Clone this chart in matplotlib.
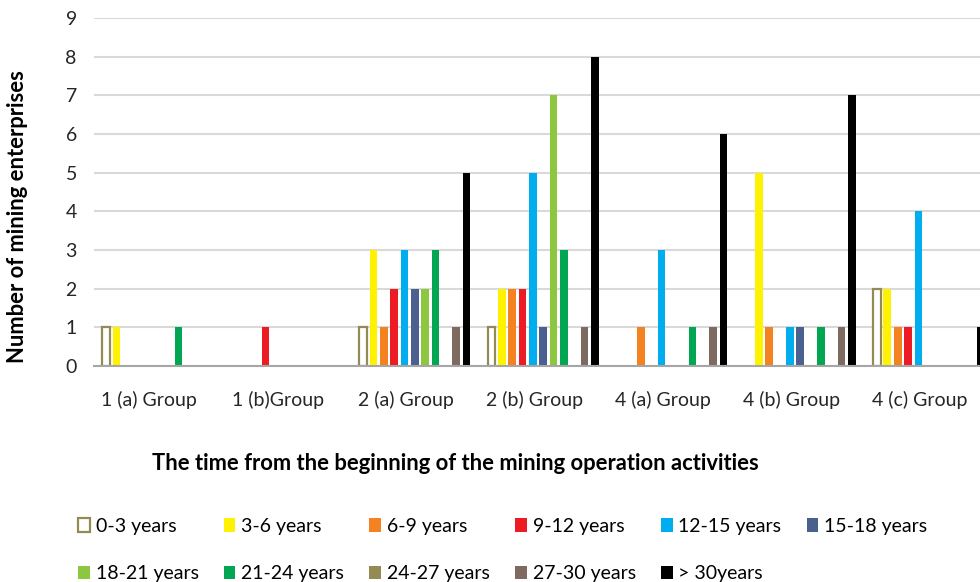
import matplotlib
matplotlib.use("Agg")
import matplotlib.pyplot as plt
import matplotlib.transforms as mtransforms
import numpy as np

plt.rcParams['font.family'] = ['Lato', 'DejaVu Sans']

groups = ["1 (a) Group", "1 (b)Group", "2 (a) Group", "2 (b) Group",
          "4 (a) Group", "4 (b) Group", "4 (c) Group"]
series = ["0-3 years", "3-6 years", "6-9 years", "9-12 years", "12-15 years",
          "15-18 years", "18-21 years", "21-24 years", "24-27 years",
          "27-30 years", "> 30years"]
colors = ["#FFFFFF", "#FFF200", "#F58220", "#ED1C24", "#00AEEF", "#4A6190",
          "#8DC63F", "#00A651", "#948A54", "#7F6A62", "#000000"]

# values[series][group]
y_0_3   = [1, 0, 1, 1, 0, 0, 2]
y_3_6   = [1, 0, 3, 2, 0, 5, 2]
y_6_9   = [0, 0, 1, 2, 1, 1, 1]
y_9_12  = [0, 1, 2, 2, 0, 0, 1]
y_12_15 = [0, 0, 3, 5, 3, 1, 4]
y_15_18 = [0, 0, 2, 1, 0, 1, 0]
y_18_21 = [0, 0, 2, 7, 0, 0, 0]
y_21_24 = [1, 0, 3, 3, 1, 1, 0]
y_24_27 = [0, 0, 0, 0, 0, 0, 0]
y_27_30 = [0, 0, 1, 1, 1, 1, 0]
y_30    = [0, 0, 5, 8, 6, 7, 1]
values = [y_0_3, y_3_6, y_6_9, y_9_12, y_12_15, y_15_18, y_18_21,
          y_21_24, y_24_27, y_27_30, y_30]

fig = plt.figure(figsize=(9.8, 5.82), dpi=100)
ax = fig.add_axes([93.5 / 980, 1 - 366 / 582, 1 - 93.5 / 980, (366 - 18) / 582])

x = np.arange(len(groups))
slot = 0.0805
width = 0.06
handles = []
for j, (name, vals, col) in enumerate(zip(series, values, colors)):
    vals = np.array(vals, dtype=float)
    pos = x + (j - 5) * slot
    mask = vals > 0
    if j == 0:
        ax.bar(pos[mask], vals[mask], width=width, facecolor="white",
               edgecolor="#948A54", linewidth=1.6, zorder=3)
        h = plt.Rectangle((0, 0), 1, 1, facecolor="white", edgecolor="#948A54", linewidth=1.6)
    else:
        ax.bar(pos[mask], vals[mask], width=width, color=col, zorder=3)
        h = plt.Rectangle((0, 0), 1, 1, facecolor=col, edgecolor="none")
    handles.append(h)

ax.set_xlim(-0.5, 6.399)
ax.set_ylim(0, 9)
ax.set_yticks(range(10))
ax.yaxis.grid(True, color="#D9D9D9", linewidth=1.5, zorder=0)
ax.set_axisbelow(True)
for s in ["top", "right", "left"]:
    ax.spines[s].set_visible(False)
ax.spines["bottom"].set_color("#A6A6A6")
ax.spines["bottom"].set_linewidth(1.5)
ax.spines["bottom"].set_zorder(4)
ax.tick_params(axis="both", length=0, labelsize=14, colors="#262626")
ax.tick_params(axis="y", pad=12)
ax.tick_params(axis="x", pad=18)
ax.set_xticks(x)
ax.set_xticklabels(groups)
offset = mtransforms.ScaledTranslation(-8.5 / 100, 0, fig.dpi_scale_trans)
for lab in ax.get_xticklabels():
    lab.set_transform(lab.get_transform() + offset)

fig.text(18 / 980, 1 - 217 / 582, "Number of mining enterprises", rotation=90,
         ha="center", va="center", fontsize=15.8, fontweight="bold")
fig.text(455 / 980, 1 - 463 / 582,
         "The time from the beginning of the mining operation activities",
         ha="center", va="center", fontsize=15.8, fontweight="bold")

# reorder so that the legend reads row by row (6 per row)
order = [0, 6, 1, 7, 2, 8, 3, 9, 4, 10, 5]
fig.legend([handles[i] for i in order], [series[i] for i in order], ncol=6,
           loc="upper left", bbox_to_anchor=(78 / 980, 1 - 518 / 582),
           frameon=False, fontsize=14, handlelength=0.6, handleheight=0.7,
           handletextpad=0.3, columnspacing=1.3, labelspacing=1.56,
           borderaxespad=0, borderpad=0)

fig.savefig("out.png", dpi=100)
